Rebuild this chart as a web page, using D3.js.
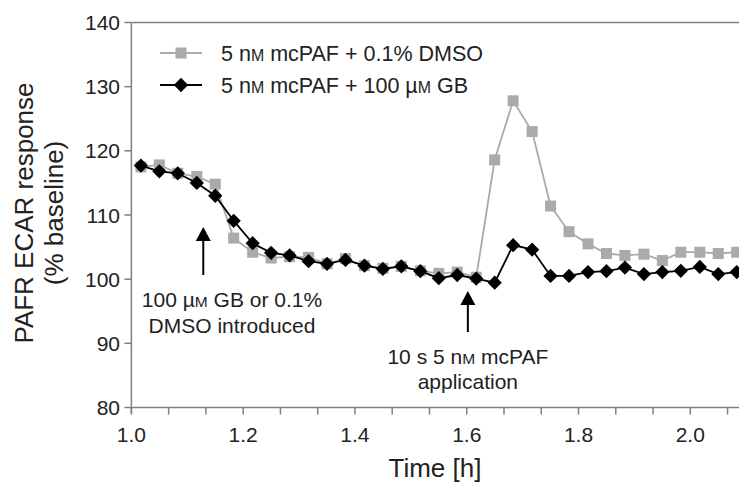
<!DOCTYPE html>
<html lang="en">
<head>
  <meta charset="UTF-8">
  <title>PAFR ECAR response</title>
  <script src="https://cdn.jsdelivr.net/npm/d3@7"></script>
  <style>
    body { margin: 0; background: #fff; }
    text { font-family: "Liberation Sans", Arial, sans-serif; fill: #222; }
  </style>
  <script>
    // time of each reading (h), every 2 min
    var times = [1.017, 1.050, 1.083, 1.117, 1.150, 1.183, 1.217, 1.250, 1.283, 1.317, 1.350,
                 1.383, 1.417, 1.450, 1.483, 1.517, 1.550, 1.583, 1.617, 1.650, 1.683, 1.717,
                 1.750, 1.783, 1.817, 1.850, 1.883, 1.917, 1.950, 1.983, 2.017, 2.050, 2.083];
    // 5 nM mcPAF + 0.1% DMSO
    var dmso = [117.5, 117.8, 116.5, 116.0, 114.8, 106.4, 104.2, 103.3, 103.5, 103.4, 102.4,
                103.2, 102.1, 101.7, 102.0, 101.3, 100.9, 101.1, 100.3, 118.6, 127.8, 123.0,
                111.4, 107.4, 105.5, 104.0, 103.7, 103.9, 102.9, 104.2, 104.2, 104.0, 104.2];
    // 5 nM mcPAF + 100 uM GB
    var gb = [117.7, 116.8, 116.5, 115.0, 113.0, 109.1, 105.6, 104.1, 103.7, 102.8, 102.4,
              103.0, 102.1, 101.6, 102.0, 101.25, 100.15, 100.65, 100.1, 99.45, 105.3, 104.6,
              100.5, 100.5, 101.1, 101.25, 101.8, 100.8, 101.1, 101.3, 101.9, 100.8, 101.1];
    var yTicks = [80, 90, 100, 110, 120, 130, 140];
    var xLabels = [1.0, 1.2, 1.4, 1.6, 1.8, 2.0];
    // tick marks every 4 min
    var xMinor = d3.range(0, 17).map(function(k){ return 1 + k / 15; });

    // {M} = small capital
    function rich(sel, str) {
      str.split(/(\{[^}]+\})/).forEach(function(p){
        if (!p) return;
        if (p.charAt(0) === '{') {
          sel.append('tspan').attr('font-size', '0.74em').text(p.slice(1, -1));
        } else {
          sel.append('tspan').text(p);
        }
      });
    }

    window.addEventListener('load', function(){
      var W = 739, H = 492;
      var x = d3.scaleLinear().domain([1, 2]).range([131.4, 690.3]);
      var y = d3.scaleLinear().domain([80, 140]).range([407.5, 22.5]);
      var axisCol = '#808080';
      var x0 = x(1);

      var s = d3.select('body').append('svg')
                .attr('width', W)
                .attr('height', H);

      // frame
      s.append('line')
       .attr('x1', x0).attr('x2', W).attr('y1', y(140)).attr('y2', y(140))
       .attr('stroke', axisCol).attr('stroke-width', 1.5);
      s.append('line')
       .attr('x1', x0).attr('x2', W).attr('y1', y(80)).attr('y2', y(80))
       .attr('stroke', axisCol).attr('stroke-width', 1.5);
      s.append('line')
       .attr('x1', x0).attr('x2', x0).attr('y1', y(140)).attr('y2', y(80) + 6)
       .attr('stroke', axisCol).attr('stroke-width', 1.5);

      // y ticks
      s.selectAll('.yt')
       .data(yTicks)
       .enter()
       .append('line')
       .attr('x1', x0 - 7).attr('x2', x0)
       .attr('y1', function(d){ return y(d); })
       .attr('y2', function(d){ return y(d); })
       .attr('stroke', axisCol).attr('stroke-width', 1.5);
      s.selectAll('.yl')
       .data(yTicks)
       .enter()
       .append('text')
       .attr('x', 120)
       .attr('y', function(d){ return y(d) + 7.5; })
       .attr('text-anchor', 'end')
       .attr('font-size', 21)
       .text(function(d){ return d; });

      // x ticks
      s.selectAll('.xt')
       .data(xMinor)
       .enter()
       .append('line')
       .attr('x1', function(d){ return x(d); })
       .attr('x2', function(d){ return x(d); })
       .attr('y1', y(80)).attr('y2', y(80) + 7)
       .attr('stroke', axisCol).attr('stroke-width', 1.5);
      s.selectAll('.xl')
       .data(xLabels)
       .enter()
       .append('text')
       .attr('x', function(d){ return x(d); })
       .attr('y', 442)
       .attr('text-anchor', 'middle')
       .attr('font-size', 21)
       .text(function(d){ return d3.format('.1f')(d); });

      // axis titles
      s.append('text')
       .attr('x', 435).attr('y', 477)
       .attr('text-anchor', 'middle')
       .attr('font-size', 26)
       .text('Time [h]');
      var yt = s.append('text')
                .attr('transform', 'translate(33,213) rotate(-90)')
                .attr('text-anchor', 'middle')
                .attr('font-size', 26);
      yt.append('tspan').attr('x', 0).attr('dy', 0).text('PAFR ECAR response');
      yt.append('tspan').attr('x', 0).attr('dy', 30).text('(% baseline)');

      var line = d3.line()
                   .x(function(d, i){ return x(times[i]); })
                   .y(function(d){ return y(d); });

      // DMSO series (grey squares)
      s.append('path')
       .attr('d', line(dmso))
       .attr('fill', 'none').attr('stroke', '#aaa').attr('stroke-width', 1.8);
      s.selectAll('.sq')
       .data(dmso)
       .enter()
       .append('rect')
       .attr('x', function(d, i){ return x(times[i]) - 5.5; })
       .attr('y', function(d){ return y(d) - 5.5; })
       .attr('width', 11).attr('height', 11)
       .attr('fill', '#aaa');

      // GB series (black diamonds)
      s.append('path')
       .attr('d', line(gb))
       .attr('fill', 'none').attr('stroke', '#000').attr('stroke-width', 1.8);
      var diamond = d3.symbol().type(d3.symbolDiamond2).size(130);
      s.selectAll('.dm')
       .data(gb)
       .enter()
       .append('path')
       .attr('d', diamond)
       .attr('transform', function(d, i){ return 'translate(' + x(times[i]) + ',' + y(d) + ')'; })
       .attr('fill', '#000');

      // legend
      var leg = [
        {name: '5 n{M} mcPAF + 0.1% DMSO', col: '#aaa', sym: 'sq'},
        {name: '5 n{M} mcPAF + 100 \u00b5{M} GB', col: '#000', sym: 'dm'}
      ];
      leg.forEach(function(d, i){
        var ly = 53 + i * 32;
        s.append('line')
         .attr('x1', 160).attr('x2', 202).attr('y1', ly).attr('y2', ly)
         .attr('stroke', d.col).attr('stroke-width', 1.8);
        if (d.sym === 'sq') {
          s.append('rect').attr('x', 175.5).attr('y', ly - 5.5)
           .attr('width', 11).attr('height', 11).attr('fill', d.col);
        } else {
          s.append('path').attr('d', diamond)
           .attr('transform', 'translate(181,' + ly + ')').attr('fill', d.col);
        }
        var t = s.append('text').attr('x', 221).attr('y', ly + 7.5).attr('font-size', 21.5);
        rich(t, d.name);
      });

      // annotations
      function arrow(xv, tip, base) {
        s.append('line')
         .attr('x1', x(xv)).attr('x2', x(xv)).attr('y1', tip + 12).attr('y2', base)
         .attr('stroke', '#000').attr('stroke-width', 2);
        s.append('path')
         .attr('d', 'M' + x(xv) + ',' + tip + 'l-7.5,14h15z')
         .attr('fill', '#000');
      }
      arrow(1.1286, 227, 275);
      arrow(1.602, 291, 332);

      var a1 = s.append('text').attr('text-anchor', 'middle').attr('font-size', 21);
      var l1 = a1.append('tspan').attr('x', 232).attr('y', 307);
      rich(l1, '100 \u00b5{M} GB or 0.1%');
      a1.append('tspan').attr('x', 232).attr('y', 333).text('DMSO introduced');

      var a2 = s.append('text').attr('text-anchor', 'middle').attr('font-size', 21);
      var l2 = a2.append('tspan').attr('x', x(1.602)).attr('y', 364);
      rich(l2, '10 s 5 n{M} mcPAF');
      a2.append('tspan').attr('x', x(1.602)).attr('y', 389).text('application');
    }, false);
  </script>
</head>
<body>
</body>
</html>
